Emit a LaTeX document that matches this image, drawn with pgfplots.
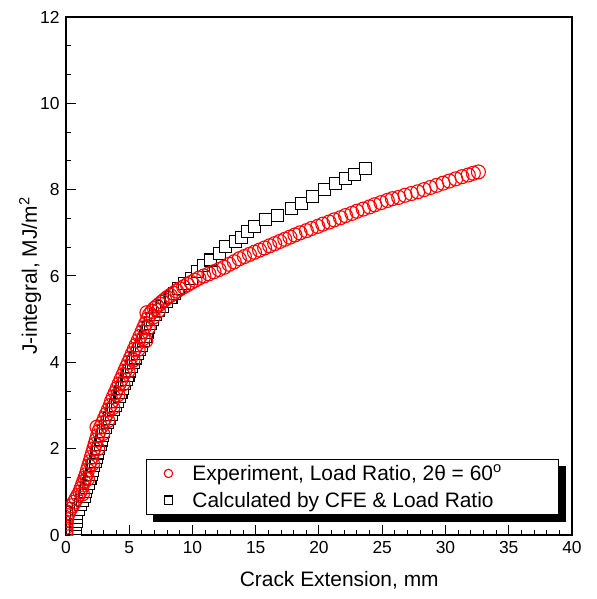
\documentclass[border=0pt]{standalone}
\usepackage{pgfplots}
\pgfplotsset{compat=1.18}
\usepackage{fontspec}
\setmainfont{Liberation Sans}
\pgfplotsset{legend image code/.code={\path[draw=none,fill=none] (0bp,-1bp) rectangle (40bp,1bp); \draw[#1, mark size=4.2bp] plot coordinates {(18bp,0bp)};}}
\begin{document}
\begin{tikzpicture}
\begin{axis}[
  scale only axis, width=506bp, height=518bp,
  xmin=0, xmax=40, ymin=0, ymax=12,
  xtick distance=5, ytick distance=2,
  minor x tick num=4, minor y tick num=2,
  tick align=inside, tick pos=left,
  major tick length=10bp, minor tick length=5bp,
  axis line style={line width=1.3bp},
  every tick/.style={line width=1bp, black},
  /pgf/number format/assume math mode=true,
  ticklabel style={font=\fontsize{17.5}{20}\selectfont},
  yticklabel style={xshift=-3bp},
  xticklabel style={yshift=-3bp},
  xlabel={Crack Extension, mm},
  ylabel={J-integral, MJ/m\textsuperscript{2}},
  label style={font=\fontsize{21}{25}\selectfont},
  xlabel style={at={(axis description cs:0.54,-0.087)}, anchor=center},
  ylabel style={at={(axis description cs:-0.071,0.5)}, anchor=center},
  clip marker paths=true,
  reverse legend,
  legend cell align=left,
  legend style={at={(axis description cs:0.158,0.0386)}, anchor=south west,
    name=legbox,
    draw=black, line width=1bp, fill=white,
    font=\fontsize{21}{25}\selectfont,
    inner xsep=4bp, inner ysep=4bp, row sep=6bp},
]
\addplot[only marks, black, mark=square*, mark size=6bp,
  mark options={solid, fill=white, draw=black, line width=1.1bp}]
coordinates {
(0.75,0.0)(0.75,0.08)(0.75,0.16)(0.78,0.24)(0.8,0.32)(0.82,0.4)(0.85,0.5)(1.0,0.6)(1.15,0.7)(1.3,0.8)
(1.45,0.9)(1.55,1.0)(1.65,1.1)(1.8,1.2)(1.9,1.3)(2.0,1.4)(2.1,1.5)(2.2,1.6)(2.3,1.7)(2.4,1.8)
(2.5,1.9)(2.6,2.0)(2.7,2.1)(2.8,2.2)(2.9,2.3)(3.0,2.4)(3.15,2.5)(3.3,2.6)(3.45,2.7)(3.6,2.8)
(3.75,2.9)(3.9,3.0)(4.05,3.1)(4.2,3.2)(4.35,3.3)(4.5,3.4)(4.6,3.5)(4.75,3.6)(4.9,3.7)(5.05,3.8)
(5.2,3.9)(5.35,4.0)(5.5,4.1)(5.65,4.2)(5.8,4.3)(5.95,4.4)(6.1,4.5)(6.25,4.6)(6.4,4.7)(6.55,4.8)
(6.7,4.9)(6.85,5.0)(7.05,5.1)(7.3,5.2)(7.6,5.3)(7.95,5.4)(8.3,5.5)(8.6,5.6)(8.9,5.7)(9.35,5.83)
(9.9,5.95)(10.4,6.1)(10.9,6.25)(11.45,6.37)(12.1,6.52)(12.6,6.68)(13.4,6.8)(13.9,6.9)(14.35,7.03)(14.9,7.14)
(15.8,7.3)(16.7,7.41)(17.8,7.57)(18.6,7.68)(19.5,7.84)(20.4,8.0)(21.3,8.15)(22.1,8.26)(22.8,8.36)(23.7,8.49)
};
\addlegendentry{Calculated by CFE \& Load Ratio}
\addplot[only marks, red, mark=o, mark size=7bp,
  mark options={solid, draw=red, line width=1.1bp}]
coordinates {
(0,0.02)(0,0.1)(0,0.18)(0.02,0.27)(0.05,0.36)(0.1,0.45)(0.2,0.52)(0.35,0.6)(0.5,0.68)(0.65,0.76)
(0.8,0.84)(0.95,0.92)(1.1,1.0)(1.2,1.08)(1.3,1.16)(1.4,1.24)(1.5,1.32)(1.6,1.4)(1.7,1.5)(1.8,1.6)
(1.9,1.7)(2.0,1.8)(2.1,1.9)(2.2,2.0)(2.3,2.1)(2.4,2.2)(2.5,2.3)(2.6,2.4)(2.45,2.5)(2.75,2.5)
(2.9,2.6)(3.05,2.7)(3.2,2.8)(3.35,2.9)(3.5,3.0)(3.6,3.1)(3.75,3.2)(3.9,3.3)(4.05,3.4)(4.2,3.5)
(4.35,3.6)(4.5,3.7)(4.65,3.8)(4.8,3.9)(4.95,4.0)(5.1,4.1)(5.25,4.2)(5.4,4.3)(5.55,4.4)(5.7,4.5)
(6.3,4.5)(5.85,4.6)(6.0,4.7)(6.15,4.8)(6.3,4.9)(6.45,5.0)(6.6,5.1)(6.4,5.15)(6.8,5.18)(7.0,5.25)
(7.2,5.3)(7.4,5.35)(7.6,5.4)(7.8,5.45)(8.0,5.5)(8.25,5.55)(8.5,5.6)(8.75,5.65)(9.0,5.7)(9.3,5.75)
(9.6,5.8)(9.9,5.85)(10.2,5.9)(10.5,5.95)(10.9,6.0)(11.3,6.05)(11.7,6.1)(12.1,6.15)(12.5,6.2)(12.9,6.27)
(13.3,6.33)(13.7,6.4)(14.1,6.45)(14.5,6.5)(14.9,6.55)(15.3,6.6)(15.7,6.65)(16.1,6.7)(16.5,6.75)(16.9,6.8)
(17.3,6.85)(17.7,6.9)(18.1,6.95)(18.5,7.0)(19.0,7.05)(19.4,7.1)(19.9,7.15)(20.3,7.2)(20.8,7.25)(21.2,7.3)
(21.7,7.35)(22.1,7.4)(22.6,7.45)(23.0,7.5)(23.5,7.55)(24.0,7.6)(24.4,7.65)(24.9,7.7)(25.4,7.75)(25.8,7.79)
(26.3,7.82)(26.8,7.87)(27.3,7.91)(27.8,7.95)(28.3,8.0)(28.8,8.05)(29.3,8.1)(29.8,8.15)(30.3,8.2)(30.8,8.25)
(31.3,8.3)(31.8,8.34)(32.2,8.38)(32.6,8.41)
(1.3,0.95)(1.7,1.3)(2.1,1.65)(2.5,2.0)(2.9,2.35)(3.3,2.65)(3.7,2.95)(4.1,3.25)(4.5,3.5)(4.9,3.8)
(5.3,4.05)(5.7,4.3)(6.1,4.55)(6.5,4.8)(6.9,5.05)(7.3,5.2)
};
\addlegendentry{\makebox[360bp][l]{Experiment, Load Ratio, 2θ = 60\textsuperscript{o}}}
\end{axis}
\fill[black] ([yshift=-7bp]legbox.north east) rectangle ([xshift=7bp,yshift=-7bp]legbox.south east);
\fill[black] ([xshift=7bp]legbox.south west) rectangle ([xshift=7bp,yshift=-7bp]legbox.south east);
\pgfresetboundingbox
\path (current axis.south west) ++(-66bp,-64bp) coordinate (bbA)
      (current axis.north east) ++(25bp,17bp) coordinate (bbB);
\useasboundingbox (bbA) rectangle (bbB);
\end{tikzpicture}
\end{document}
